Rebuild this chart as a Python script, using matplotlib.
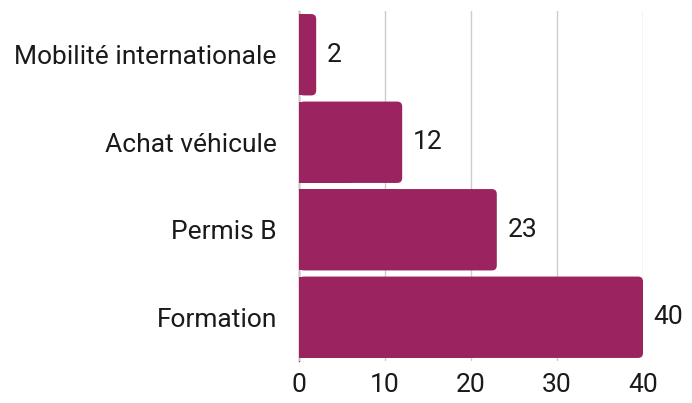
import matplotlib.pyplot as plt
from matplotlib.patches import FancyBboxPatch, Rectangle

categories = ["Mobilité internationale", "Achat véhicule", "Permis B", "Formation"]
values = [2, 12, 23, 40]
xticks = [0, 10, 20, 30, 40]

BAR_COLOR = "#9b2360"
TEXT_COLOR = "#1a1a1a"
FS = 19
plt.rcParams['font.family'] = ['Roboto', 'DejaVu Sans']

fig = plt.figure(figsize=(6.92, 4.03), dpi=100)
ax = fig.add_axes([299 / 692, 1 - 361 / 403, 344 / 692, 350 / 403])

ypos = list(range(len(categories)))[::-1]
bars = ax.barh(ypos, values, height=0.93, color=BAR_COLOR, zorder=3)

ax.set_xlim(0, 40)
ax.set_ylim(-0.5, 3.5)

# swap plain bars for ones rounded on the right
px_x = 344 / 40
px_y = 350 / 4
aspect = px_x / px_y
r = 5 / px_x
for b in bars:
    x, y, w, h = b.get_x(), b.get_y(), b.get_width(), b.get_height()
    b.set_visible(False)
    ax.add_patch(FancyBboxPatch((x, y), w, h,
                                boxstyle=f"round,pad=0,rounding_size={r}",
                                mutation_aspect=aspect, fc=BAR_COLOR, ec="none", zorder=3))
    ax.add_patch(Rectangle((x, y), w / 2, h, fc=BAR_COLOR, ec="none", zorder=3))
    ax.text(w + 1.25, y + h / 2, str(w), va="center", ha="left", fontsize=FS, color=TEXT_COLOR)

ax.set_yticks(ypos)
ax.set_yticklabels(categories, fontsize=FS, color=TEXT_COLOR)
ax.set_xticks(xticks)
ax.set_xticklabels([str(t) for t in xticks], fontsize=FS, color=TEXT_COLOR)
ax.tick_params(axis="both", length=0)
ax.tick_params(axis="y", pad=16)
ax.tick_params(axis="x", pad=9)

ax.grid(axis="x", color="#cccccc", linewidth=1, zorder=0)
for s in ["top", "right", "bottom"]:
    ax.spines[s].set_visible(False)
ax.spines["left"].set_color("#555555")
ax.spines["left"].set_linewidth(1)
ax.spines["left"].set_zorder(1)

fig.savefig("out.png", dpi=100)
